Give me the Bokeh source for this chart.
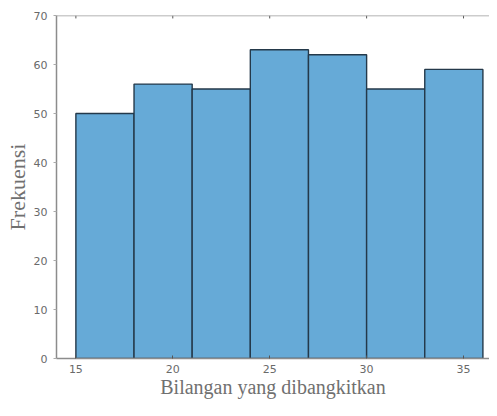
from bokeh.plotting import figure
from bokeh.models import LinearAxis, Range1d, FixedTicker, Span
from bokeh.embed import file_html
from bokeh.resources import INLINE

bin_left = [15, 18, 21, 24, 27, 30, 33]
bin_right = [18, 21, 24, 27, 30, 33, 36]
counts = [50, 56, 55, 63, 62, 55, 59]
x_ticks = [15, 20, 25, 30, 35]
y_ticks = [0, 10, 20, 30, 40, 50, 60, 70]

y_top = y_ticks[-1]

p = figure(width=489, height=400, output_backend="svg", toolbar_location=None,
           x_range=Range1d(14, 36.34), y_range=Range1d(0, y_top),
           min_border_left=56, min_border_top=15, min_border_bottom=34,
           min_border_right=0, x_axis_location=None, y_axis_location=None)
p.outline_line_color = None
p.grid.visible = False
p.background_fill_color = "white"
p.border_fill_color = "white"

p.quad(left=bin_left, right=bin_right, bottom=0, top=counts,
       fill_color="#66AAD7", line_color="#24394a", line_width=1.4)

# top box line with inward ticks
p.add_layout(Span(location=y_top, dimension="width", line_color="#9a9a9a", line_width=1.5))
p.segment(x0=x_ticks, x1=x_ticks, y0=[y_top] * len(x_ticks), y1=[y_top - 0.6] * len(x_ticks),
          line_color="#555555", line_width=1)

axis_color = "#8c8c8c"
label_color = "#707070"
tick_label_color = "#6a6a6a"

xb = LinearAxis(ticker=FixedTicker(ticks=x_ticks))
xb.axis_line_color = axis_color
xb.axis_line_width = 1.5
xb.major_tick_line_color = "#555555"
xb.major_tick_in = 3
xb.major_tick_out = 0
xb.minor_tick_line_color = None
xb.major_label_text_font = "DejaVu Sans"
xb.major_label_text_font_size = "11px"
xb.major_label_text_color = tick_label_color
xb.major_label_standoff = 6
xb.axis_label = "Bilangan yang dibangkitkan"
xb.axis_label_text_font = "Liberation Serif"
xb.axis_label_text_font_style = "normal"
xb.axis_label_text_font_size = "20px"
xb.axis_label_text_color = label_color
xb.axis_label_standoff = 0
p.add_layout(xb, "below")

yl = LinearAxis(ticker=FixedTicker(ticks=y_ticks))
yl.axis_line_color = axis_color
yl.axis_line_width = 1.5
yl.major_tick_line_color = "#aaaaaa"
yl.major_tick_in = 0
yl.major_tick_out = 3
yl.minor_tick_line_color = None
yl.major_label_text_font = "DejaVu Sans"
yl.major_label_text_font_size = "11px"
yl.major_label_text_color = tick_label_color
yl.major_label_standoff = 6
yl.axis_label = "Frekuensi"
yl.axis_label_text_font = "Liberation Serif"
yl.axis_label_text_font_style = "normal"
yl.axis_label_text_font_size = "22px"
yl.axis_label_text_color = label_color
yl.axis_label_standoff = 1
p.add_layout(yl, "left")

open("out.html", "w").write(file_html(p, INLINE))
